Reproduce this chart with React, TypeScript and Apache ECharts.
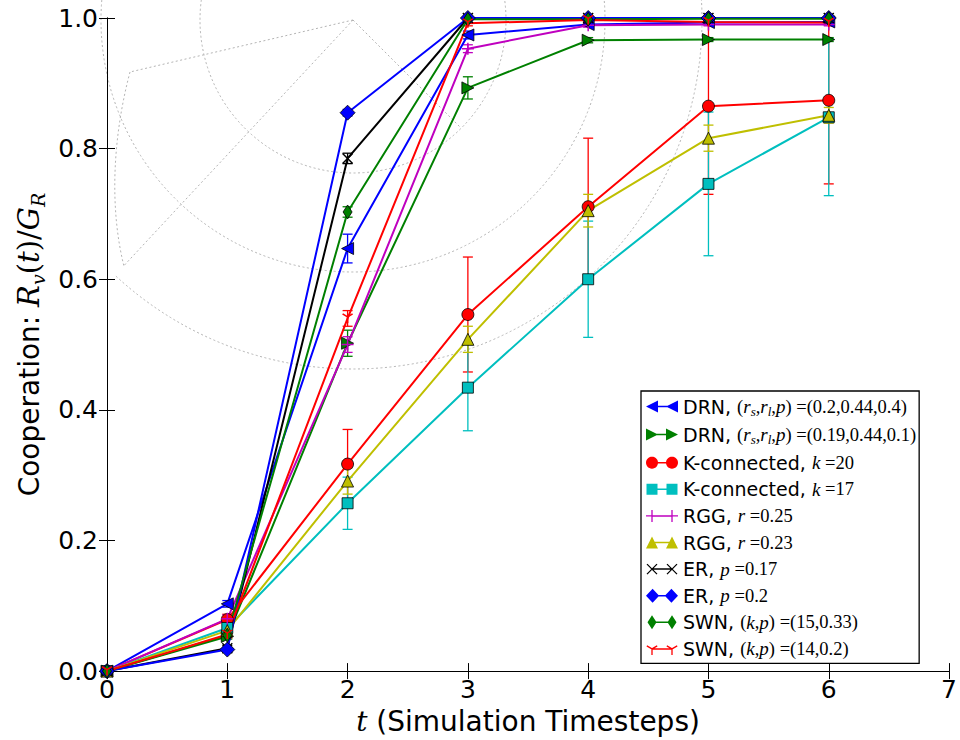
import React, { useEffect, useRef } from "react";
import * as echarts from "echarts";

// ---------------- data ----------------
const timesteps = [0, 1, 2, 3, 4, 5, 6];
const xTickLabels = ["0", "1", "2", "3", "4", "5", "6", "7"];
const yTickLabels = ["0.0", "0.2", "0.4", "0.6", "0.8", "1.0"];

const seriesNames = [
  "DRN, (rs,rl,p)=(0.2,0.44,0.4)",
  "DRN, (rs,rl,p)=(0.19,0.44,0.1)",
  "K-connected, k=20",
  "K-connected, k=17",
  "RGG, r=0.25",
  "RGG, r=0.23",
  "ER, p=0.17",
  "ER, p=0.2",
  "SWN, (k,p)=(15,0.33)",
  "SWN, (k,p)=(14,0.2)",
];

const legendLabels = [
  "{s|DRN, }{n|(}{m|r}{b|s}{n|,}{m|r}{b|l}{n|,}{m|p}{n|) =(0.2,0.44,0.4)}",
  "{s|DRN, }{n|(}{m|r}{b|s}{n|,}{m|r}{b|l}{n|,}{m|p}{n|) =(0.19,0.44,0.1)}",
  "{s|K-connected, }{m|k }{n|=20}",
  "{s|K-connected, }{m|k }{n|=17}",
  "{s|RGG, }{m|r }{n|=0.25}",
  "{s|RGG, }{m|r }{n|=0.23}",
  "{s|ER, }{m|p }{n|=0.17}",
  "{s|ER, }{m|p }{n|=0.2}",
  "{s|SWN, }{n|(}{m|k}{n|,}{m|p}{n|) =(15,0.33)}",
  "{s|SWN, }{n|(}{m|k}{n|,}{m|p}{n|) =(14,0.2)}",
];

const drn1 = [0, 0.103, 0.647, 0.974, 0.99, 0.993, 0.994];
const drn1Err = [0, 0.005, 0.022, 0.006, 0.003, 0.002, 0.002];
const drn2 = [0, 0.053, 0.502, 0.893, 0.966, 0.967, 0.967];
const drn2Err = [0, 0.004, 0.02, 0.017, 0.004, 0.003, 0.003];
const k20 = [0, 0.079, 0.317, 0.546, 0.711, 0.865, 0.874];
const k20Err = [0, 0.008, 0.053, 0.088, 0.105, 0.135, 0.128];
const k17 = [0, 0.066, 0.257, 0.434, 0.6, 0.746, 0.848];
const k17Err = [0, 0.006, 0.04, 0.066, 0.089, 0.11, 0.12];
const rgg25 = [0, 0.08, 0.5, 0.953, 0.989, 0.99, 0.99];
const rgg25Err = [0, 0.006, 0.012, 0.006, 0.003, 0.002, 0.002];
const rgg23 = [0, 0.062, 0.291, 0.508, 0.705, 0.816, 0.851];
const rgg23Err = [0, 0.005, 0.02, 0.02, 0.025, 0.02, 0.012];
const er17 = [0, 0.035, 0.785, 1.0, 1.0, 1.0, 1.0];
const er17Err = [0, 0.004, 0.008, 0, 0, 0, 0];
const er20 = [0, 0.033, 0.855, 1.0, 1.0, 1.0, 1.0];
const er20Err = [0, 0.003, 0.005, 0, 0, 0, 0];
const swn33 = [0, 0.055, 0.703, 0.998, 0.998, 0.999, 0.999];
const swn33Err = [0, 0.004, 0.008, 0.002, 0, 0, 0];
const swn2 = [0, 0.056, 0.54, 0.992, 0.997, 0.994, 0.993];
const swn2Err = [0, 0.005, 0.012, 0.004, 0.002, 0.002, 0.002];

// ---------------- style ----------------
const C = {
  b: "#0000ff",
  g: "#008000",
  r: "#ff0000",
  c: "#00bfbf",
  m: "#bf00bf",
  y: "#bfbf00",
  k: "#000000",
};

const PLUS = "path://M0,5L10,5M5,0L5,10";
const CROSS = "path://M0,0L10,10M10,0L0,10";
const TRIDOWN = "path://M5,5L5,10M5,5L0.67,2.5M5,5L9.33,2.5";

type Def = {
  values: number[];
  errs: number[];
  color: string;
  symbol: string;
  size: number | number[];
  rotate?: number;
  stroke?: boolean;
  icon: string;
};

const defs: Def[] = [
  { values: drn1, errs: drn1Err, color: C.b, symbol: "triangle", size: 12, rotate: 90, icon: "left" },
  { values: drn2, errs: drn2Err, color: C.g, symbol: "triangle", size: 12, rotate: -90, icon: "right" },
  { values: k20, errs: k20Err, color: C.r, symbol: "circle", size: 12, icon: "circle" },
  { values: k17, errs: k17Err, color: C.c, symbol: "rect", size: 11, icon: "square" },
  { values: rgg25, errs: rgg25Err, color: C.m, symbol: PLUS, size: 12, stroke: true, icon: "plus" },
  { values: rgg23, errs: rgg23Err, color: C.y, symbol: "triangle", size: 12, icon: "up" },
  { values: er17, errs: er17Err, color: C.k, symbol: CROSS, size: 10, stroke: true, icon: "x" },
  { values: er20, errs: er20Err, color: C.b, symbol: "diamond", size: [15, 15], icon: "D" },
  { values: swn33, errs: swn33Err, color: C.g, symbol: "diamond", size: [9, 14], icon: "d" },
  { values: swn2, errs: swn2Err, color: C.r, symbol: TRIDOWN, size: [10, 9], stroke: true, icon: "Y" },
];

// ---------------- legend icons (two markers joined by a line) ----------------
const IW = 32;
const IH = 14;
function poly(pts: number[][]): string {
  let a = 0;
  for (let i = 0; i < pts.length; i++) {
    const p = pts[i];
    const q = pts[(i + 1) % pts.length];
    a += p[0] * q[1] - q[0] * p[1];
  }
  const P = a < 0 ? pts.slice().reverse() : pts;
  return "M" + P.map((p) => p[0].toFixed(2) + "," + p[1].toFixed(2)).join("L") + "Z";
}
function seg(x1: number, y1: number, x2: number, y2: number, w: number): string {
  const dx = x2 - x1;
  const dy = y2 - y1;
  const L = Math.hypot(dx, dy);
  const nx = (-dy / L) * (w / 2);
  const ny = (dx / L) * (w / 2);
  return poly([
    [x1 + nx, y1 + ny],
    [x2 + nx, y2 + ny],
    [x2 - nx, y2 - ny],
    [x1 - nx, y1 - ny],
  ]);
}
function circ(cx: number, cy: number, r: number): string {
  const pts: number[][] = [];
  for (let i = 0; i < 28; i++) {
    const a = (i / 28) * Math.PI * 2;
    pts.push([cx + r * Math.cos(a), cy + r * Math.sin(a)]);
  }
  return poly(pts);
}
function marker(kind: string, cx: number): string {
  const cy = IH / 2;
  switch (kind) {
    case "left":
      return poly([[cx - 6, cy], [cx + 6, cy - 6], [cx + 6, cy + 6]]);
    case "right":
      return poly([[cx + 6, cy], [cx - 6, cy - 6], [cx - 6, cy + 6]]);
    case "circle":
      return circ(cx, cy, 6);
    case "square":
      return poly([[cx - 5.5, cy - 5.5], [cx + 5.5, cy - 5.5], [cx + 5.5, cy + 5.5], [cx - 5.5, cy + 5.5]]);
    case "plus":
      return seg(cx - 6, cy, cx + 6, cy, 1.3) + seg(cx, cy - 6, cx, cy + 6, 1.3);
    case "up":
      return poly([[cx, cy - 6], [cx + 6, cy + 6], [cx - 6, cy + 6]]);
    case "x":
      return seg(cx - 5, cy - 5, cx + 5, cy + 5, 1.3) + seg(cx + 5, cy - 5, cx - 5, cy + 5, 1.3);
    case "D":
      return poly([[cx, cy - 7], [cx + 7, cy], [cx, cy + 7], [cx - 7, cy]]);
    case "d":
      return poly([[cx, cy - 7], [cx + 4.5, cy], [cx, cy + 7], [cx - 4.5, cy]]);
    case "Y":
      return seg(cx, cy, cx, cy + 6, 1.3) + seg(cx, cy, cx - 5.2, cy - 3, 1.3) + seg(cx, cy, cx + 5.2, cy - 3, 1.3);
  }
  return "";
}
function legendIcon(kind: string): string {
  const c1 = 6;
  const c2 = IW - 6;
  const corners =
    poly([[0, 0], [0.01, 0], [0.01, 0.01], [0, 0.01]]) +
    poly([[IW - 0.01, IH - 0.01], [IW, IH - 0.01], [IW, IH], [IW - 0.01, IH]]);
  return "path://" + corners + seg(c1, IH / 2, c2, IH / 2, 1.5) + marker(kind, c1) + marker(kind, c2);
}

// ---------------- background dotted polar grid ----------------
const PC = [353, 20];
const dotted = { stroke: "#b4b4b4", lineWidth: 1, lineDash: [2, 2.5], fill: "none" };
function polarPt(angDeg: number, r: number) {
  const a = (angDeg * Math.PI) / 180;
  return [PC[0] + r * Math.cos(a), PC[1] + r * Math.sin(a)];
}
const spokeA = polarPt(45, 152);
const spokeB = polarPt(133, 336);
const spokeC = [130, 72];
const polarGraphic: any[] = [
  { type: "arc", silent: true, shape: { cx: PC[0], cy: PC[1], r: 153, startAngle: -0.3, endAngle: Math.PI + 0.3, clockwise: true }, style: dotted },
  { type: "arc", silent: true, shape: { cx: PC[0], cy: PC[1], r: 252, startAngle: -0.2, endAngle: Math.PI + 0.3, clockwise: true }, style: dotted },
  { type: "arc", silent: true, shape: { cx: PC[0], cy: PC[1], r: 349, startAngle: -0.1, endAngle: (133 * Math.PI) / 180, clockwise: true }, style: dotted },
  { type: "line", silent: true, shape: { x1: PC[0], y1: PC[1], x2: spokeA[0], y2: spokeA[1] }, style: dotted },
  { type: "line", silent: true, shape: { x1: PC[0], y1: PC[1], x2: spokeB[0], y2: spokeB[1] }, style: dotted },
  { type: "line", silent: true, shape: { x1: PC[0], y1: PC[1], x2: spokeC[0], y2: spokeC[1] }, style: dotted },
  {
    type: "bezierCurve",
    silent: true,
    shape: { x1: spokeC[0], y1: spokeC[1], cpx1: 112, cpy1: 140, cpx2: 110, cpy2: 210, x2: spokeB[0], y2: spokeB[1] },
    style: dotted,
  },
];

// ---------------- series ----------------
function errorSeries(d: Def, i: number) {
  const data = d.values
    .map((v, j) => [timesteps[j], v - d.errs[j], v + d.errs[j], d.errs[j]])
    .filter((p) => p[3] > 0);
  return {
    type: "custom",
    name: "err" + i,
    silent: true,
    clip: false,
    encode: { x: 0, y: [1, 2] },
    data,
    renderItem: (_params: any, api: any) => {
      const x = api.value(0);
      const lo = api.coord([x, api.value(1)]);
      const hi = api.coord([x, api.value(2)]);
      const hw = 5;
      const st = { stroke: d.color, lineWidth: 1.3 };
      return {
        type: "group",
        children: [
          { type: "line", shape: { x1: lo[0], y1: lo[1], x2: hi[0], y2: hi[1] }, style: st },
          { type: "line", shape: { x1: lo[0] - hw, y1: lo[1], x2: lo[0] + hw, y2: lo[1] }, style: st },
          { type: "line", shape: { x1: hi[0] - hw, y1: hi[1], x2: hi[0] + hw, y2: hi[1] }, style: st },
        ],
      };
    },
  };
}
function lineSeries(d: Def, i: number) {
  return {
    type: "line",
    name: seriesNames[i],
    data: d.values.map((v, j) => [timesteps[j], v]),
    symbol: d.symbol,
    symbolSize: d.size,
    symbolRotate: d.rotate || 0,
    showAllSymbol: true,
    clip: false,
    lineStyle: { color: d.color, width: 2 },
    itemStyle: d.stroke
      ? { color: d.color, borderColor: d.color, borderWidth: 1.5 }
      : { color: d.color, borderColor: "#000", borderWidth: 0.8 },
    emphasis: { disabled: true },
  };
}
const allSeries: any[] = [];
defs.forEach((d, i) => {
  allSeries.push(errorSeries(d, i));
  allSeries.push(lineSeries(d, i));
});

const legendMap: Record<string, string> = {};
seriesNames.forEach((n, i) => (legendMap[n] = legendLabels[i]));

const tickFont = { fontFamily: "DejaVu Sans", fontSize: 25, color: "#000" };
const mathRich = (
  size: number,
  msize: number,
  nsize: number,
  lh: number,
  sub: number,
  mfont: string,
  nfont: string
) => ({
  s: { fontFamily: "DejaVu Sans", fontSize: size, lineHeight: lh, color: "#000" },
  m: { fontFamily: mfont, fontStyle: "italic", fontSize: msize, lineHeight: lh, color: "#000" },
  n: { fontFamily: nfont, fontSize: nsize, lineHeight: lh, color: "#000" },
  b: { fontFamily: mfont, fontStyle: "italic", fontSize: sub, lineHeight: Math.round(sub * 1.1), verticalAlign: "bottom", color: "#000" },
});

const axisCommon = {
  type: "value",
  splitLine: { show: false },
  axisLine: { show: true, lineStyle: { color: "#000", width: 1 } },
  axisTick: { show: true, inside: true, length: 8, lineStyle: { color: "#000", width: 1 } },
};

const option: any = {
  animation: false,
  backgroundColor: "#fff",
  graphic: polarGraphic,
  grid: { left: 107, right: 7, top: 18, bottom: 65, containLabel: false },
  xAxis: [
    {
      ...axisCommon,
      min: 0,
      max: 7,
      interval: 1,
      position: "bottom",
      axisLabel: { ...tickFont, margin: 6, formatter: (v: number) => xTickLabels[Math.round(v)] },
      name: "{m|t }{s|(Simulation Timesteps)}",
      nameLocation: "middle",
      nameGap: 26,
      nameTextStyle: { rich: mathRich(28, 28, 28, 34, 18, "DejaVu Serif", "DejaVu Serif") },
    },
    {
      ...axisCommon,
      min: 0,
      max: 7,
      interval: 1,
      position: "top",
      axisLabel: { show: false },
    },
  ],
  yAxis: [
    {
      ...axisCommon,
      min: 0,
      max: 1,
      interval: 0.2,
      position: "left",
      axisLabel: { ...tickFont, margin: 9, formatter: (v: number) => yTickLabels[Math.round(v * 5)] },
      name: "{s|Cooperation: }{m|R}{b|v}{n|(}{m|t}{n|)/}{m|G}{b|R}",
      nameLocation: "middle",
      nameGap: 49,
      nameTextStyle: {
        rich: mathRich(28, 29, 29, 36, 19, "DejaVu Serif", "DejaVu Serif"),
      },
    },
    {
      ...axisCommon,
      min: 0,
      max: 1,
      interval: 0.2,
      position: "right",
      axisLabel: { show: false },
    },
  ],
  legend: {
    orient: "vertical",
    left: 641,
    top: 391,
    padding: [6, 3, 5, 5],
    itemGap: 7.6,
    itemWidth: IW,
    itemHeight: IH,
    symbolKeepAspect: false,
    selectedMode: false,
    backgroundColor: "#fff",
    borderColor: "#000",
    borderWidth: 1.3,
    borderRadius: 0,
    data: seriesNames.map((n, i) => ({
      name: n,
      icon: legendIcon(defs[i].icon),
      itemStyle: { color: defs[i].color, borderWidth: 0 },
    })),
    formatter: (name: string) => legendMap[name],
    textStyle: { rich: mathRich(19, 19, 18.5, 22, 13, "Liberation Serif", "Liberation Serif") },
  },
  series: allSeries,
};

export default function App() {
  const ref = useRef<HTMLDivElement>(null);
  useEffect(() => {
    document.body.style.margin = "0";
    const chart = echarts.init(ref.current as HTMLDivElement, null, { renderer: "svg" });
    chart.setOption(option);
    return () => chart.dispose();
  }, []);
  return <div ref={ref} style={{ width: 960, height: 740 }} />;
}
